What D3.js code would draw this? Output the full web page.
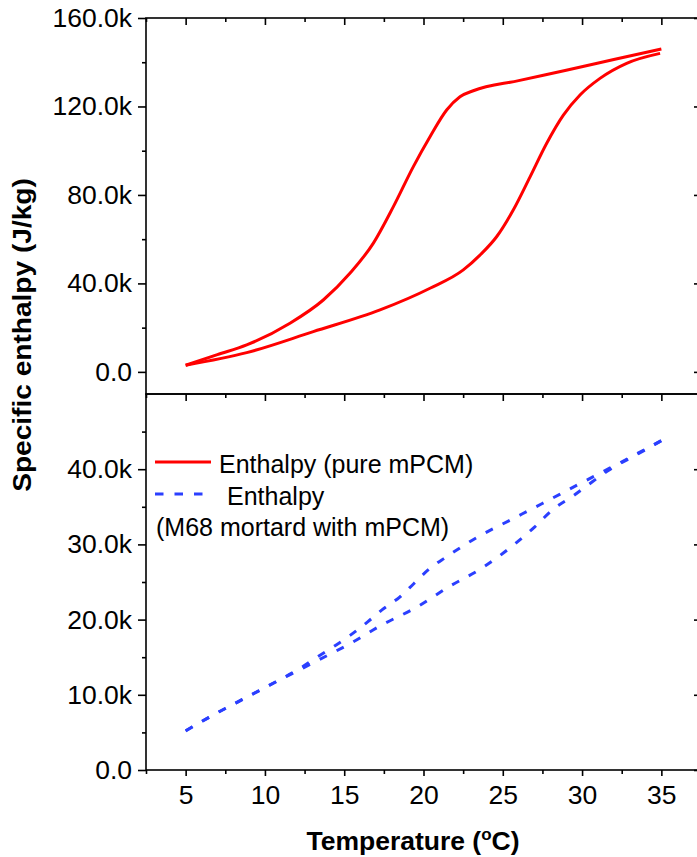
<!DOCTYPE html>
<html>
<head>
<meta charset="utf-8">
<script src="https://cdn.jsdelivr.net/npm/d3@7"></script>
<style>
  html, body { margin: 0; padding: 0; background: #fff; }
  svg { display: block; }
  text { font-family: Arial, "Liberation Sans", sans-serif; fill: #000; }
</style>
</head>
<body>
<svg id="chart" width="697" height="857"></svg>
<script>
// ---------------- data ----------------
const xTickValues = [5, 10, 15, 20, 25, 30, 35];
const xMinorTicks = [2.5, 7.5, 12.5, 17.5, 22.5, 27.5, 32.5, 37.5];
const topTickValues = [0, 40000, 80000, 120000, 160000];
const topMinorTicks = [20000, 60000, 100000, 140000];
const bottomTickValues = [0, 10000, 20000, 30000, 40000];
const bottomMinorTicks = [5000, 15000, 25000, 35000, 45000];

// Pure mPCM – cooling branch (upper loop)
const pureCoolT = [5, 7, 8.85, 11.58, 13.68, 15.36, 16.83, 18.1, 19.36, 20.41, 21.46, 22.3, 23.14, 26, 29, 32, 35];
const pureCoolH = [3000, 7800, 12200, 22000, 32500, 44600, 58100, 74700, 92800, 106300, 118400, 124400, 127100, 131700, 136400, 141200, 146000];
// Pure mPCM – heating branch (lower loop)
const pureHeatT = [5, 8.85, 13.05, 17.26, 20.41, 22.51, 23.56, 24.61, 25.66, 26.72, 27.77, 28.82, 29.87, 31.13, 32.81, 34.92];
const pureHeatH = [3000, 8700, 18200, 28000, 37800, 46100, 52800, 61100, 73200, 88200, 103400, 116100, 125200, 132700, 139500, 144000];

// M68 mortar with mPCM – upper branch
const mortUpT = [5, 6.64, 8.87, 10.67, 12.35, 13.35, 14.47, 15.37, 16.48, 17.38, 18.5, 19.4, 20.4, 21.41, 23.43, 25.44, 27.46, 29.7, 31.71, 33.5, 35];
const mortUpH = [5200, 7200, 9700, 11700, 13700, 15100, 16600, 17900, 19700, 21300, 23000, 24800, 26800, 28300, 31000, 33200, 35400, 37900, 40100, 42100, 43800];
// M68 mortar with mPCM – lower branch
const mortLowT = [5, 6.64, 8.87, 10.67, 12.35, 13.35, 15.37, 17.38, 19.62, 21.63, 23.65, 25.67, 27.0, 28.13, 29.47, 30.37, 31.71, 33.5, 35];
const mortLowH = [5200, 7200, 9700, 11700, 13500, 14600, 16800, 19300, 21700, 24400, 26800, 29900, 32300, 34600, 36500, 37900, 39900, 42000, 43800];

const legendLabels = ["Enthalpy (pure mPCM)", "Enthalpy", "(M68 mortard with mPCM)"];

// ---------------- layout ----------------
const svg = d3.select("#chart");
const pLeft = 146, pRight = 701, pTop = 18, pMid = 394, pBottom = 770;
const red = "#ff0000", blue = "#2b3fff";

const x = d3.scaleLinear().domain([2.5, 37.5]).range([pLeft, pRight]);
const yTop = d3.scaleLinear().domain([-10000, 160000]).range([pMid, pTop]);
const yBot = d3.scaleLinear().domain([0, 50000]).range([pBottom, pMid]);

const fmt = v => v === 0 ? "0.0" : (v / 1000).toFixed(1) + "k";

function styleAxis(g, fontSize) {
  g.select(".domain").remove();
  g.selectAll("line").attr("stroke", "#000").attr("stroke-width", 1.6);
  g.selectAll("text").attr("font-size", fontSize).attr("fill", "#000")
    .style("font-family", "Arial, 'Liberation Sans', sans-serif");
}

// ---- y axes ----
function yAxes(scale, major, minor) {
  svg.append("g").attr("transform", `translate(${pLeft},0)`)
    .call(d3.axisLeft(scale).tickValues(major).tickSize(8).tickPadding(6).tickFormat(fmt))
    .call(g => styleAxis(g, 26.5));
  svg.append("g").attr("transform", `translate(${pLeft},0)`)
    .call(d3.axisLeft(scale).tickValues(minor).tickSize(4).tickFormat(""))
    .call(g => styleAxis(g, 0));
  svg.append("g").attr("transform", `translate(${pRight},0)`)
    .call(d3.axisLeft(scale).tickValues(major).tickSize(7).tickFormat(""))
    .call(g => styleAxis(g, 0));
  svg.append("g").attr("transform", `translate(${pRight},0)`)
    .call(d3.axisLeft(scale).tickValues(minor).tickSize(4).tickFormat(""))
    .call(g => styleAxis(g, 0));
}
yAxes(yTop, topTickValues, topMinorTicks);
yAxes(yBot, bottomTickValues, bottomMinorTicks);

// ---- x axes (all ticks pointing down) ----
[pTop, pMid, pBottom].forEach(yy => {
  const isBottom = yy === pBottom;
  svg.append("g").attr("transform", `translate(0,${yy})`)
    .call(d3.axisBottom(x).tickValues(xTickValues).tickSize(isBottom ? 6 : 7).tickPadding(9)
      .tickFormat(isBottom ? d3.format("d") : ""))
    .call(g => styleAxis(g, 26.5));
  svg.append("g").attr("transform", `translate(0,${yy})`)
    .call(d3.axisBottom(x).tickValues(xMinorTicks).tickSize(4).tickFormat(""))
    .call(g => styleAxis(g, 0));
});

// ---- frames ----
svg.append("rect").attr("x", pLeft).attr("y", pTop).attr("width", pRight - pLeft).attr("height", pMid - pTop)
  .attr("fill", "none").attr("stroke", "#000").attr("stroke-width", 1.6);
svg.append("rect").attr("x", pLeft).attr("y", pMid).attr("width", pRight - pLeft).attr("height", pBottom - pMid)
  .attr("fill", "none").attr("stroke", "#000").attr("stroke-width", 1.6);

// ---- lines ----
const zip = (a, b) => a.map((v, i) => [v, b[i]]);
const lineTop = d3.line().x(d => x(d[0])).y(d => yTop(d[1])).curve(d3.curveMonotoneX);
const lineBot = d3.line().x(d => x(d[0])).y(d => yBot(d[1])).curve(d3.curveMonotoneX);

[zip(pureCoolT, pureCoolH), zip(pureHeatT, pureHeatH)].forEach(dat => {
  svg.append("path").attr("d", lineTop(dat)).attr("fill", "none")
    .attr("stroke", red).attr("stroke-width", 3).attr("stroke-linejoin", "round");
});
[zip(mortUpT, mortUpH), zip(mortLowT, mortLowH)].forEach(dat => {
  svg.append("path").attr("d", lineBot(dat)).attr("fill", "none")
    .attr("stroke", blue).attr("stroke-width", 3).attr("stroke-dasharray", "8,11");
});

// ---- legend ----
svg.append("line").attr("x1", 155).attr("x2", 211).attr("y1", 462).attr("y2", 462)
  .attr("stroke", red).attr("stroke-width", 3);
svg.append("line").attr("x1", 155).attr("x2", 204).attr("y1", 494).attr("y2", 494)
  .attr("stroke", blue).attr("stroke-width", 3).attr("stroke-dasharray", "8.5,11");
svg.append("text").attr("x", 219).attr("y", 473).attr("font-size", 25).text(legendLabels[0]);
svg.append("text").attr("x", 227).attr("y", 505).attr("font-size", 25).text(legendLabels[1]);
svg.append("text").attr("x", 156).attr("y", 536).attr("font-size", 25).text(legendLabels[2]);

// ---- axis titles ----
const xt = svg.append("text").attr("x", 413).attr("y", 850).attr("text-anchor", "middle")
  .attr("font-size", 26.5).attr("font-weight", "bold");
xt.append("tspan").text("Temperature (");
xt.append("tspan").attr("font-size", 17).attr("dy", -10).text("o");
xt.append("tspan").attr("dy", 10).text("C)");

svg.append("text")
  .attr("transform", "translate(31,335) rotate(-90) scale(1.06,1)")
  .attr("text-anchor", "middle").attr("font-size", 26.5).attr("font-weight", "bold")
  .text("Specific enthalpy (J/kg)");
</script>
</body>
</html>
